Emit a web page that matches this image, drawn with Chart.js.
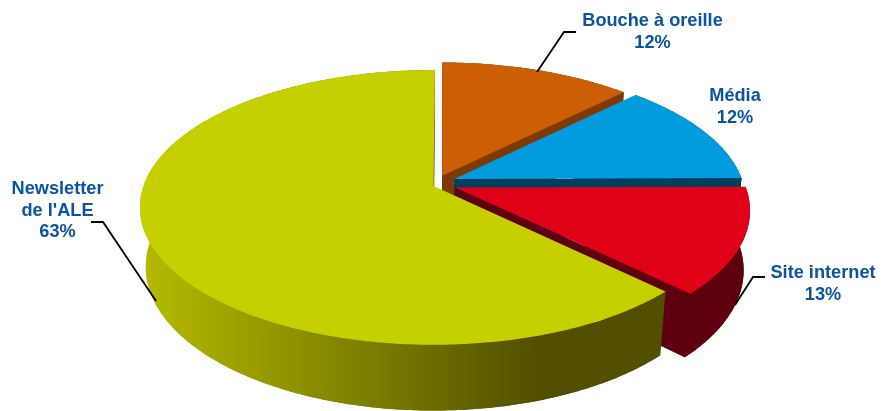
<!DOCTYPE html>
<html>
<head>
<meta charset="utf-8">
<title>Pie</title>
<script src="https://cdn.jsdelivr.net/npm/chart.js@4"></script>
<style>
  html, body { margin: 0; padding: 0; background: #ffffff; overflow: hidden; }
  #chart { display: block; }
</style>
</head>
<body>
<canvas id="chart" width="881" height="411"></canvas>
<script>
const categories = ["Bouche à oreille", "Média", "Site internet", "Newsletter de l'ALE"];
const values = [12.4, 12.4, 12.5, 62.7];
const labelLines = [["Bouche à oreille"], ["Média"], ["Site internet"], ["Newsletter", "de l'ALE"]];

const topColors = ["#cc5f05", "#009cde", "#e00018", "#c6d000"];
const wallColors = ["#7d3a02", "#003f5f", "#5e000e", null];

// how far each slice is pulled out of the pie
const pullU = [0.03, 0.072, 0.075, 0];
const pullV = [-0.077, -0.052, 0.012, 0];

// label position (centre x, first line y) and leader line
const labelX = [652.5, 735, 823, 57.5];
const labelY = [21, 96, 273, 189];
const leaders = [
  [[537, 72], [564, 32], [576, 32]],
  null,
  [[735, 305], [753, 277], [765, 277]],
  [[156, 301], [103, 222], [91, 222]],
];

// fake 3D camera
const cam = { cx: 433.5, cy: 186, r: 290, a: 134, h: 60, p: 0.156, d: 0.02 };

function project(u, v, z) {
  const w = 1 - cam.p * v + cam.d * z;
  return [cam.cx + cam.r * u / w, cam.cy + (cam.a * v + cam.h * z) / w];
}

function arcPoints(i, start, end, z) {
  const pts = [];
  const steps = Math.max(2, Math.ceil((end - start) / 0.01));
  for (let s = 0; s <= steps; s++) {
    const t = start + (end - start) * s / steps;
    pts.push(project(pullU[i] + Math.cos(t), pullV[i] + Math.sin(t), z));
  }
  return pts;
}

function fillPoly(ctx, pts, color) {
  ctx.beginPath();
  pts.forEach((p, n) => (n ? ctx.lineTo(p[0], p[1]) : ctx.moveTo(p[0], p[1])));
  ctx.closePath();
  ctx.fillStyle = color;
  ctx.fill();
}

const pie3d = {
  id: "pie3d",
  // the slices come from the library's arc elements, drawn with depth here
  beforeDatasetsDraw(chart) {
    const ctx = chart.ctx;
    const arcs = chart.getDatasetMeta(0).data;

    const yellowWall = ctx.createLinearGradient(145, 0, 535, 0);
    yellowWall.addColorStop(0, "#b4ba00");
    yellowWall.addColorStop(1, "#525000");

    arcs.forEach((arc, i) => {
      const start = arc.startAngle;
      const end = arc.endAngle;
      const wall = wallColors[i] || yellowWall;
      const apexTop = project(pullU[i], pullV[i], 0);
      const apexBottom = project(pullU[i], pullV[i], 1);
      const top = arcPoints(i, start, end, 0);
      const bottom = arcPoints(i, start, end, 1);

      fillPoly(ctx, [apexBottom].concat(bottom), wall);
      fillPoly(ctx, top.concat(bottom.slice().reverse()), wall);
      fillPoly(ctx, [apexTop, top[top.length - 1], bottom[bottom.length - 1], apexBottom], wall);
      fillPoly(ctx, [apexTop].concat(top), topColors[i]);
    });
    return false;
  },
  afterDraw(chart) {
    const ctx = chart.ctx;
    ctx.save();
    ctx.strokeStyle = "#000000";
    ctx.lineWidth = 1.8;
    leaders.forEach((line) => {
      if (!line) return;
      ctx.beginPath();
      line.forEach((p, n) => (n ? ctx.lineTo(p[0], p[1]) : ctx.moveTo(p[0], p[1])));
      ctx.stroke();
    });

    ctx.font = "bold 18.2px 'Liberation Sans'";
    ctx.fillStyle = "#0a54a0";
    ctx.textAlign = "center";
    ctx.textBaseline = "middle";
    labelLines.forEach((lines, i) => {
      const all = lines.concat([Math.round(values[i]) + "%"]);
      all.forEach((txt, n) => ctx.fillText(txt, labelX[i], labelY[i] + n * 21.7));
    });
    ctx.restore();
  },
};

new Chart(document.getElementById("chart"), {
  type: "pie",
  plugins: [pie3d],
  data: {
    labels: categories,
    datasets: [{ data: values, backgroundColor: topColors, borderWidth: 0 }],
  },
  options: {
    responsive: false,
    animation: false,
    rotation: 0.3,
    plugins: { legend: { display: false }, tooltip: { enabled: false } },
  },
});
</script>
</body>
</html>
